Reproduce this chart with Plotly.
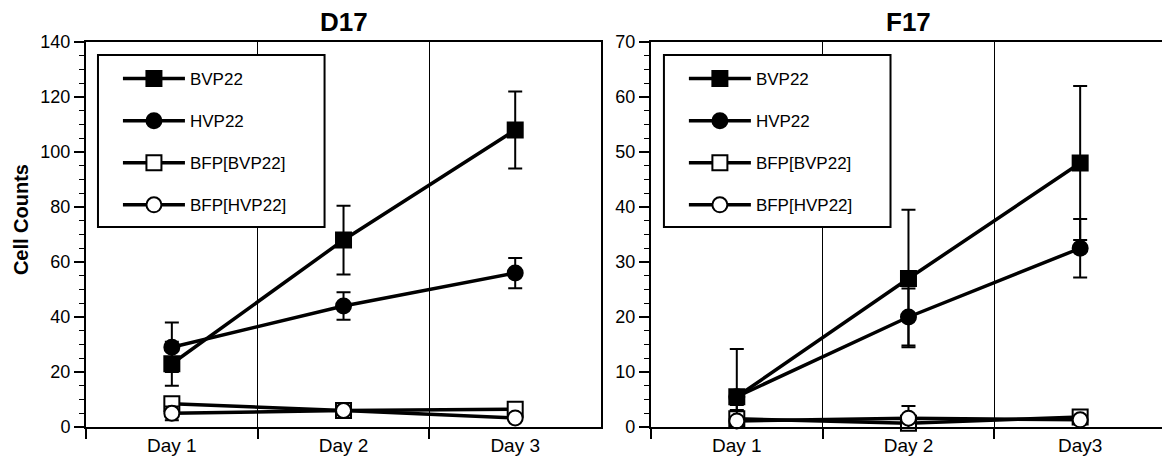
import plotly.graph_objects as go

# ---------------- data ----------------
days_left = ["Day 1", "Day 2", "Day 3"]
days_right = ["Day 1", "Day 2", "Day3"]
series_names = ["BVP22", "HVP22", "BFP[BVP22]", "BFP[HVP22]"]

d17_bvp22 = [23, 68, 108]
d17_bvp22_err = [8, 12.5, 14]
d17_hvp22 = [29, 44, 56]
d17_hvp22_err = [9, 5, 5.5]
d17_bfp_bvp22 = [8.5, 6, 6.5]
d17_bfp_bvp22_err = [2, 1, 1]
d17_bfp_hvp22 = [5, 6, 3.3]
d17_bfp_hvp22_err = [2.5, 1, 1]

f17_bvp22 = [5.5, 27, 48]
f17_bvp22_err = [8.7, 12.5, 14]
f17_hvp22 = [5.5, 20, 32.5]
f17_hvp22_err = [1, 5.2, 5.3]
f17_bfp_bvp22 = [1.5, 0.7, 1.8]
f17_bfp_bvp22_err = [2.5, 1, 0.5]
f17_bfp_hvp22 = [1.1, 1.6, 1.3]
f17_bfp_hvp22_err = [2, 2.2, 0.5]

panel_titles = ["D17", "F17"]
y_title = "Cell Counts"

FONT = "Liberation Sans, Arial, Helvetica, sans-serif"

styles = [
    dict(symbol="square", color="black"),
    dict(symbol="circle", color="black"),
    dict(symbol="square", color="white"),
    dict(symbol="circle", color="white"),
]

fig = go.Figure()

panels = [
    ("x", "y", "legend", days_left,
     [(d17_bvp22, d17_bvp22_err), (d17_hvp22, d17_hvp22_err),
      (d17_bfp_bvp22, d17_bfp_bvp22_err), (d17_bfp_hvp22, d17_bfp_hvp22_err)]),
    ("x2", "y2", "legend2", days_right,
     [(f17_bvp22, f17_bvp22_err), (f17_hvp22, f17_hvp22_err),
      (f17_bfp_bvp22, f17_bfp_bvp22_err), (f17_bfp_hvp22, f17_bfp_hvp22_err)]),
]

for xa, ya, leg, cats, data in panels:
    for i, ((vals, errs), name, st) in enumerate(zip(data, series_names, styles)):
        fig.add_trace(go.Scatter(
            x=cats, y=vals, name=name, xaxis=xa, yaxis=ya,
            legend=leg, legendgroup=f"{leg}_{i}",
            mode="lines+markers",
            line=dict(color="black", width=3.5),
            marker=dict(symbol=st["symbol"], color=st["color"], size=15,
                        line=dict(color="black", width=2)),
            error_y=dict(type="data", array=errs, visible=True,
                         color="black", thickness=2, width=7),
            cliponaxis=False,
        ))

# ---------------- layout ----------------
OFF = 8  # page body margin
PL, PR, PT, PB = 86, 1168, 42, 427  # page pixel positions of plot area
W = 1170 - OFF
H = 466 - OFF
ml, mt = PL - OFF, PT - OFF
mr = W + OFF - PR
mb = H + OFF - PB
pw = PR - PL
ph = PB - PT


def px_x(p):
    return (p - PL) / pw


def px_y(p):
    return (PB - p) / ph


xaxis_common = dict(
    type="category", tickson="boundaries", ticks="outside", ticklen=10,
    tickwidth=1.5, tickcolor="black", showgrid=True, gridcolor="black",
    gridwidth=1, showline=True, linecolor="black", linewidth=2, mirror=True,
    range=[-0.5, 2.5], tickfont=dict(family=FONT, size=19, color="black"),
    zeroline=False, fixedrange=True,
)
yaxis_common = dict(
    ticks="outside", ticklen=10, tickwidth=1.5, tickcolor="black",
    showgrid=False, showline=True, linecolor="black", linewidth=2,
    mirror=True, zeroline=False,
    tickfont=dict(family=FONT, size=18, color="black"),
)

legend_common = dict(
    xanchor="left", yanchor="top", bgcolor="rgba(0,0,0,0)", borderwidth=0,
    tracegroupgap=17, itemwidth=62,
    font=dict(family=FONT, size=17, color="black"),
)

fig.update_layout(
    width=W, height=H,
    margin=dict(l=ml, r=mr, t=mt, b=mb),
    paper_bgcolor="white", plot_bgcolor="white",
    font=dict(family=FONT, color="black"),
    xaxis=dict(domain=[0, 516 / pw], anchor="y",
               categoryarray=days_left, categoryorder="array", **xaxis_common),
    xaxis2=dict(domain=[(652 - PL) / pw, 1.0], anchor="y2",
                categoryarray=days_right, categoryorder="array", **xaxis_common),
    yaxis=dict(anchor="x", range=[0, 140], dtick=20,
               minor=dict(dtick=5, ticklen=5, ticks="outside", tickcolor="black", tickwidth=1),
               **yaxis_common),
    yaxis2=dict(anchor="x2", range=[0, 70], dtick=10,
                minor=dict(dtick=2.5, ticklen=5, ticks="outside", tickcolor="black", tickwidth=1),
                **yaxis_common),
    showlegend=True,
    legend=dict(x=px_x(118), y=px_y(61), **legend_common),
    legend2=dict(x=px_x(685), y=px_y(61), **legend_common),
)

# legend boxes
for x0, x1 in [(98, 325), (665, 892)]:
    fig.add_shape(type="rect", xref="paper", yref="paper",
                  x0=px_x(x0), x1=px_x(x1), y0=px_y(227), y1=px_y(55),
                  line=dict(color="black", width=2), fillcolor="white",
                  layer="above")

# panel titles
for title, cx in zip(panel_titles, [(86 + 602) / 2, (652 + 1168) / 2]):
    fig.add_annotation(text=f"<b>{title}</b>", xref="paper", yref="paper",
                       x=px_x(cx), y=1, xanchor="center", yanchor="bottom",
                       yshift=3, showarrow=False,
                       font=dict(family=FONT, size=26, color="black"))

# y-axis title
fig.add_annotation(text=f"<b>{y_title}</b>", xref="paper", yref="paper",
                   x=px_x(21), y=px_y(220), xanchor="center", yanchor="middle",
                   textangle=-90, showarrow=False,
                   font=dict(family=FONT, size=20, color="black"))

fig.write_html("out.html")
